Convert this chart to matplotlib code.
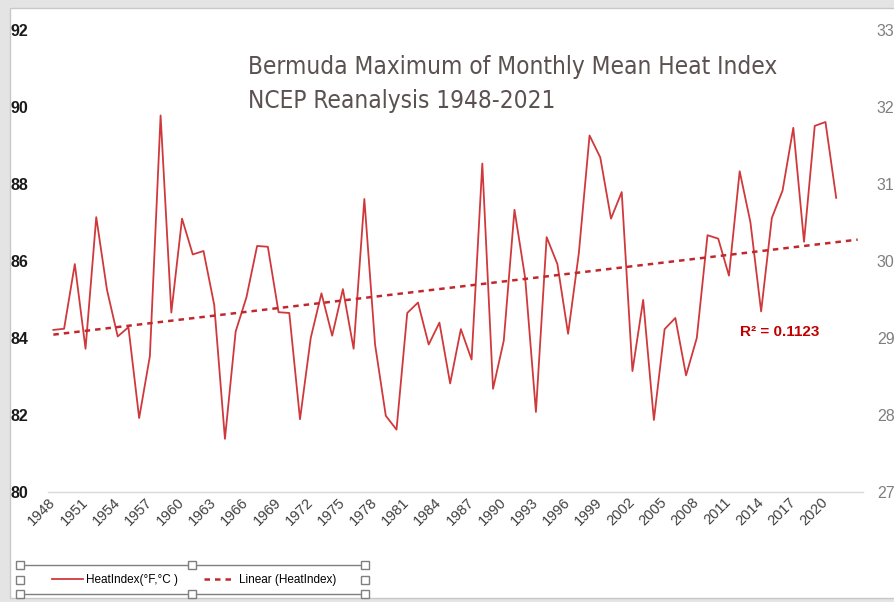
import numpy as np
import matplotlib
matplotlib.use('Agg')
from matplotlib import pyplot as plt
from matplotlib import font_manager
from matplotlib.patches import Rectangle
from matplotlib.lines import Line2D

# Bermuda max of monthly mean heat index (F)
years = np.arange(1948, 2022)
heat_index = [84.21, 84.24, 85.92, 83.72, 87.14, 85.25, 84.04, 84.28, 81.92, 83.53,
              89.78, 84.66, 87.10, 86.17, 86.26, 84.86, 81.38, 84.17, 85.05, 86.39,
              86.37, 84.67, 84.65, 81.89, 84.00, 85.16, 84.06, 85.27, 83.72, 87.61,
              83.83, 81.98, 81.62, 84.65, 84.92, 83.83, 84.40, 82.82, 84.23, 83.44,
              88.53, 82.68, 83.93, 87.33, 85.55, 82.08, 86.62, 85.92, 84.11, 86.20,
              89.26, 88.69, 87.10, 87.79, 83.14, 84.99, 81.87, 84.23, 84.52, 83.03,
              84.00, 86.67, 86.58, 85.62, 88.33, 87.01, 84.69, 87.12, 87.83, 89.46,
              86.50, 89.51, 89.61, 87.64]
tick_years = np.arange(1948, 2021, 3)
left_ticks = [80, 82, 84, 86, 88, 90, 92]
right_ticks = [27, 28, 29, 30, 31, 32, 33]
r2_label = 'R\u00b2 = 0.1123'

W, H = 894, 602
fig = plt.figure(figsize=(W / 100, H / 100), dpi=100)

# excel-ish frame around the chart
fig.patches.append(Rectangle((0, 0), 1, 1, transform=fig.transFigure,
                             facecolor='#e4e4e4', edgecolor='none', zorder=-10))
fig.patches.append(Rectangle((10 / W, 4 / H), 1.0, 1 - 12 / H, transform=fig.transFigure,
                             facecolor='white', edgecolor='#c8c8c8', lw=1, zorder=-9))

ax = fig.add_axes([48 / W, 110 / H, 815 / W, 462 / H])
ax.patch.set_alpha(0)

ax.plot(years, heat_index, color='#d0393c', lw=1.3, label='HeatIndex(\u00b0F,\u00b0C )')

# linear trend, forecast 2 periods forward like excel
coef = np.polyfit(years, heat_index, 1)
trend_x = np.array([1948, 2023])
ax.plot(trend_x, np.polyval(coef, trend_x), color='#c0282d', lw=1.8,
        dashes=(2.2, 2.0), label='Linear (HeatIndex)')

ax.set_xlim(1947.5, 2023.5)
ax.set_ylim(80, 92)
ax.set_yticks(left_ticks)
ax.set_xticks(tick_years)
ax.set_xticklabels([str(y) for y in tick_years], rotation=45, ha='right', va='center',
                   rotation_mode='anchor', fontsize=10.5, color='#404040',
                   family='Liberation Sans')
ax.tick_params(axis='x', length=0, pad=6)
ax.tick_params(axis='y', length=0, pad=14, labelsize=11.5, labelcolor='#1a1a1a')
for lab in ax.get_yticklabels():
    lab.set_family('Liberation Sans')
    lab.set_fontweight('bold')
for s in ['top', 'left', 'right']:
    ax.spines[s].set_visible(False)
ax.spines['bottom'].set_color('#d9d9d9')
ax.spines['bottom'].set_linewidth(1)

ax2 = ax.twinx()
ax2.set_ylim(27, 33)
ax2.set_yticks(right_ticks)
ax2.tick_params(axis='y', length=0, pad=10, labelsize=11.5, labelcolor='#7f7f7f')
for lab in ax2.get_yticklabels():
    lab.set_family('Liberation Sans')
for s in ax2.spines.values():
    s.set_visible(False)

# title font is a narrow face; use a condensed one if there is one
cond = font_manager.FontProperties(family='DejaVu Sans', stretch='condensed')
if 'Condensed' in font_manager.findfont(cond, fallback_to_default=True):
    title_font = dict(family='DejaVu Sans', stretch='condensed', fontsize=17.5)
else:
    title_font = dict(family='Liberation Sans', fontsize=17.5)
fig.text(248 / W, 1 - 84 / H, 'Bermuda Maximum of Monthly Mean Heat Index\nNCEP Reanalysis 1948-2021',
         color='#5b5150', ha='left', va='center', linespacing=1.55, **title_font)
fig.text(740 / W, 1 - 332 / H, r2_label, fontsize=11, fontweight='bold', color='#c00000',
         ha='left', va='center', family='Liberation Sans')

# legend with selection handles
h1, l1 = ax.get_legend_handles_labels()
leg = fig.legend(h1, l1, loc='center', bbox_to_anchor=(194 / W, 1 - 580 / H), ncol=2,
                 frameon=False, handlelength=2.6, handletextpad=0.3, columnspacing=2.2,
                 prop={'family': 'Liberation Sans', 'size': 8.5})
for y in (565, 594):
    fig.lines.append(Line2D([20 / W, 365 / W], [1 - y / H, 1 - y / H], transform=fig.transFigure,
                            color='#7f7f7f', lw=1))
for x in (20, 192, 365):
    for y in (565, 594):
        fig.lines.append(Line2D([x / W], [1 - y / H], transform=fig.transFigure, marker='s',
                                ms=6, mfc='white', mec='#7f7f7f', mew=1))
for x in (20, 365):
    fig.lines.append(Line2D([x / W], [1 - 580 / H], transform=fig.transFigure, marker='s',
                            ms=6, mfc='white', mec='#7f7f7f', mew=1))

fig.savefig('out.png', dpi=100)
